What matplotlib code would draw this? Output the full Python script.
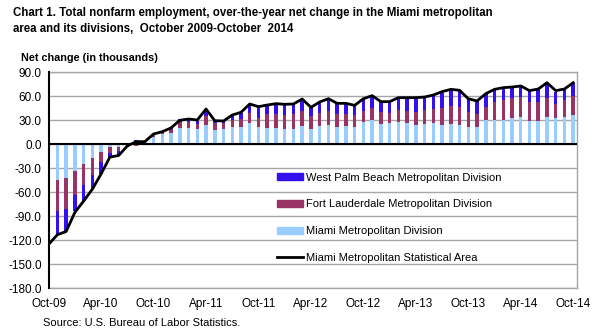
import matplotlib.pyplot as plt
import numpy as np
from matplotlib.patches import Patch
from matplotlib.lines import Line2D

# over-the-year net change (thousands), Oct-09 .. Oct-14
miami = [-48, -44.6, -42, -33.4, -24.6, -16.7, -9.2, -3, -3, 1.7,
         1, 4.5, 9.5, 13, 14, 20, 20.8, 19.1, 24.1, 17.9,
         19.1, 21.6, 21.6, 26.6, 21.6, 20.4, 20.4, 19.1, 19.1, 22.9,
         19.1, 22.9, 24.1, 21.6, 22.9, 21.6, 28.3, 30.8, 25.8, 26.6,
         28.3, 26.6, 24.1, 25.4, 26.6, 24.1, 25.4, 24.1, 21.6, 21.6,
         30.4, 30.4, 30.4, 32.9, 34.1, 29.1, 29.1, 34.1, 32.9, 34.1,
         36.6]
fort_lauderdale = [-43.7, -38.4, -39, -30, -26.3, -21.3, -12.9, -8.3, -5, -2,
                   -1.5, -1.2, 2, 2, 5, 8.3, 7.5, 6.3, 11.3, 9.1,
                   7.5, 8.8, 9.6, 12.9, 11.7, 17.9, 17.9, 17.9, 19.2, 18.7,
                   16.7, 16.6, 17.9, 16.7, 15.4, 15.4, 13.7, 15, 15, 12.9,
                   14.6, 15, 16.3, 17.5, 17.5, 21.3, 22.5, 22.5, 18.8, 16.3,
                   16.2, 22.5, 25, 25.4, 25, 23.8, 23.8, 24.2, 17.9, 21.7,
                   24.2]
west_palm = [-32, -29, -27, -20.6, -20.8, -17, -15.4, -5, -6.3, -1.5,
             3.8, 0, 1.4, 1, 2, 2.9, 3.7, 4.1, 7.5, 2.1,
             2.9, 5.8, 7.5, 10.9, 13.3, 10, 11.7, 11.7, 11.7, 12.9,
             10, 12.5, 14.6, 12.5, 12.9, 10.9, 14.2, 15, 12.5, 13.4,
             13.7, 15, 16.2, 15.4, 16.7, 19.1, 19.6, 19.6, 16.2, 16.2,
             16.7, 15.8, 14.6, 13.3, 14.6, 14.6, 16.2, 17.9, 15, 14.2,
             16.2]
msa = [-125, -113, -109, -85, -71, -56, -37, -16, -14, -2,
       3.3, 3.3, 12.9, 15.8, 20.5, 30, 31.6, 30.4, 44.1, 29.5,
       29.1, 36.6, 40, 50.4, 47, 49.1, 50.8, 50, 50.4, 56.6,
       46.2, 52.9, 57, 51.2, 51.2, 48.7, 57, 60.8, 53.3, 53.3,
       58.3, 58.3, 58.3, 59.1, 61.6, 65.8, 68.7, 67.5, 57, 54.1,
       63.3, 68.7, 70.8, 71.6, 72.9, 67.1, 69.1, 77, 67.1, 69.1,
       77]
tick_labels = ['Oct-09', 'Apr-10', 'Oct-10', 'Apr-11', 'Oct-11', 'Apr-12',
               'Oct-12', 'Apr-13', 'Oct-13', 'Apr-14', 'Oct-14']

c_light = '#99CCFF'
c_maroon = '#993366'
c_blue = '#3311EE'

plt.rcParams['font.family'] = ['Liberation Sans', 'DejaVu Sans']

fig = plt.figure(figsize=(6.1, 3.36), dpi=100)
ax = fig.add_axes([0.0798, 0.142, 0.8666, 0.6428])

x = np.arange(len(msa))
pos = np.zeros(len(x))
neg = np.zeros(len(x))
for vals, col in [(miami, c_light), (fort_lauderdale, c_maroon), (west_palm, c_blue)]:
    v = np.array(vals, dtype=float)
    bottom = np.where(v >= 0, pos, neg)
    ax.bar(x, v, bottom=bottom, width=0.4, color=col, zorder=2)
    pos += np.clip(v, 0, None)
    neg += np.clip(v, None, 0)

ax.plot(x, msa, color='black', lw=2, zorder=4)
ax.axhline(0, color='black', lw=1.5, zorder=3)

ax.set_xlim(0, 60.47)
ax.set_ylim(-180, 90)
ax.set_yticks(np.arange(-180, 91, 30))
ax.set_yticklabels(['%.1f' % v for v in np.arange(-180, 91, 30)])
ax.set_xticks(np.arange(0, 61, 6))
ax.set_xticklabels(tick_labels)
ax.tick_params(axis='both', length=0, labelsize=8.5)
ax.tick_params(axis='y', pad=5)
ax.tick_params(axis='x', pad=7)
ax.grid(axis='y', color='#A6A6A6', lw=1, zorder=0)
ax.set_axisbelow(True)
for s in ['top', 'right', 'bottom']:
    ax.spines[s].set_color('#A6A6A6')
    ax.spines[s].set_linewidth(1)
ax.spines['left'].set_color('black')
ax.spines['left'].set_linewidth(1.5)
ax.spines['left'].set_zorder(5)

handles = [Patch(color=c_blue), Patch(color=c_maroon), Patch(color=c_light),
           Line2D([], [], color='black', lw=2)]
labels = ['West Palm Beach Metropolitan Division', 'Fort Lauderdale Metropolitan Division',
          'Miami Metropolitan Division', 'Miami Metropolitan Statistical Area']
ax.legend(handles, labels, loc='upper left', bbox_to_anchor=(0.431, 0.535), frameon=False,
          fontsize=8, borderpad=0, borderaxespad=0, handlelength=2.35, handleheight=0.6,
          handletextpad=0.3, labelspacing=1.5)

fig.text(0.021, 0.978, 'Chart 1. Total nonfarm employment, over-the-year net change in the Miami metropolitan\n'
         'area and its divisions,  October 2009-October  2014',
         fontweight='bold', fontsize=8.3, va='top', ha='left', linespacing=1.4)
fig.text(0.034, 0.827, 'Net change (in thousands)', fontweight='bold', fontsize=7.8, va='center')
fig.text(0.07, 0.04, 'Source: U.S. Bureau of Labor Statistics.', fontsize=8, va='center')

fig.savefig('out.png', dpi=100)
